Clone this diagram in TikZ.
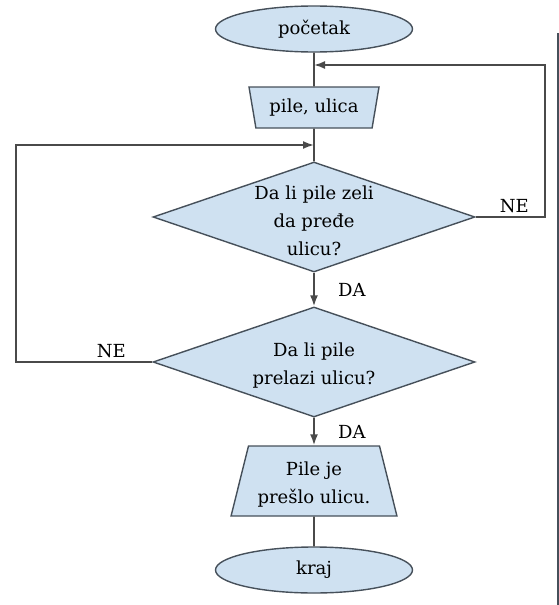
\documentclass[tikz,border=0pt]{standalone}
\usepackage{fontspec}
\setmainfont{DejaVu Serif}
\usetikzlibrary{shapes.geometric,arrows.meta}
\definecolor{boxfill}{HTML}{CFE1F1}
\definecolor{boxline}{HTML}{46505A}
\definecolor{wire}{HTML}{4A4A4A}
\tikzset{
  term/.style={ellipse, draw=boxline, fill=boxfill, line width=1.4pt, minimum width=197pt, minimum height=46pt, inner sep=0pt},
  inbox/.style={trapezium, shape border rotate=180, trapezium left angle=74, trapezium right angle=74, trapezium stretches body, draw=boxline, fill=boxfill, line width=1.4pt, minimum width=130pt, minimum height=41pt},
  outbox/.style={trapezium, trapezium left angle=76, trapezium right angle=76, draw=boxline, fill=boxfill, line width=1.4pt, inner sep=0pt, text width=131pt, text height=35pt, text depth=35pt},
  dec/.style={diamond, draw=boxline, fill=boxfill, line width=1.4pt, minimum width=322pt, minimum height=110pt, inner sep=0pt},
  lbl/.style={align=center, inner sep=0pt, yshift=-4pt},
  wire/.style={draw=wire, line width=1.8pt},
  arr/.style={wire, -{Latex[length=11pt,width=8pt]}}
}
\begin{document}
\begin{tikzpicture}[x=1pt, y=-1pt, font=\fontsize{18}{28}\selectfont]
        \useasboundingbox (0,0) rectangle (559,605);
        \fill[boxline] (557,33) rectangle (559,605);
        \node[term] (start) at (314,29) {početak};
        \node[inbox] (in) at (314,107.5) {pile, ulica};
        \node[dec, label={[lbl]center:{Da li pile zeli\\da pređe\\ulicu?}}] (d1) at (314,217) {};
        \node[dec, label={[lbl]center:{Da li pile\\prelazi ulicu?}}] (d2) at (314,362) {};
        \node[outbox, label={[lbl]center:{Pile je\\prešlo ulicu.}}] (out) at (314,481) {};
        \node[term] (stop) at (314,570) {kraj};
        \coordinate (j1) at (314,65);
        \coordinate (j2) at (314,145);
        \coordinate (r1) at (545,217);
        \coordinate (r2) at (545,65);
        \coordinate (l1) at (16,362);
        \coordinate (l2) at (16,145);
        \draw[wire] (start) -- (in);
        \draw[wire] (in) -- (d1);
        \draw[arr] (d1.east) -- node[above, xshift=4pt] {NE} (r1) -- (r2) -- (j1);
        \draw[arr] (d2.west) -- node[pos=0.3, above] {NE} (l1) -- (l2) -- (j2);
        \draw[arr] (d1.south) -- node[right=20pt] {DA} (d2.north);
        \draw[arr] (d2.south) -- node[right=20pt] {DA} (out.north);
        \draw[wire] (out) -- (stop);
\end{tikzpicture}
\end{document}
